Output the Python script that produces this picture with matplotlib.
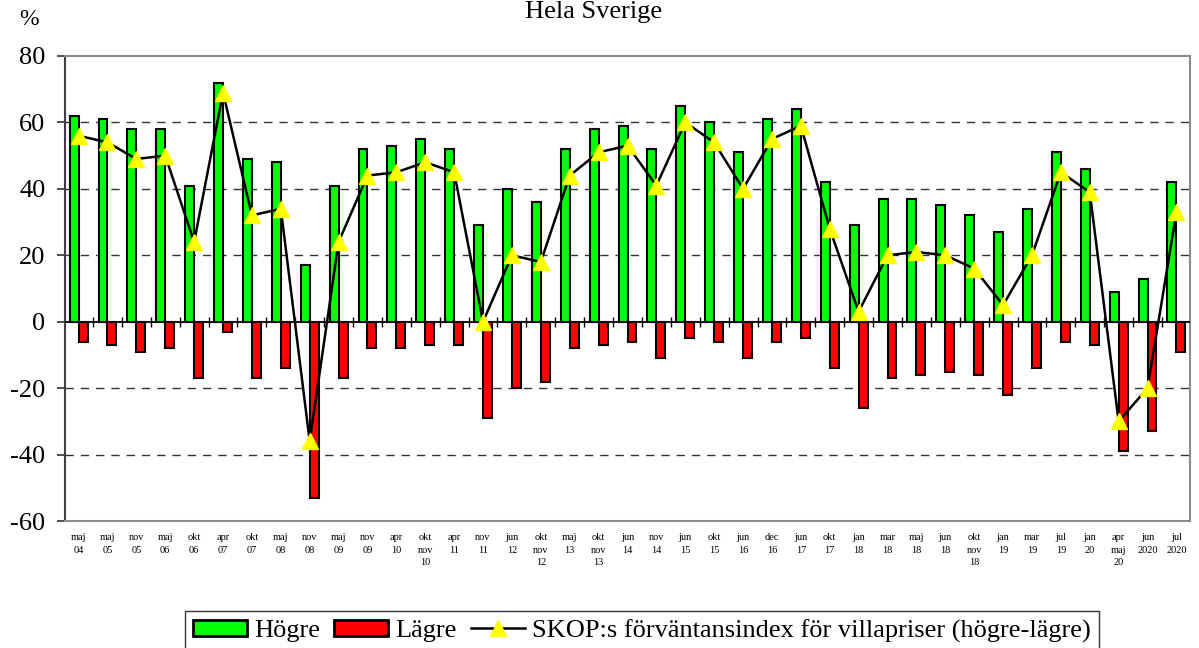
import numpy as np
import matplotlib
matplotlib.use('Agg')
import matplotlib.pyplot as plt
from matplotlib.patches import Patch
from matplotlib.lines import Line2D

# data
labels = ['maj\n04', 'maj\n05', 'nov\n05', 'maj\n06', 'okt\n06', 'apr\n07', 'okt\n07', 'maj\n08',
          'nov\n08', 'maj\n09', 'nov\n09', 'apr\n10', 'okt\nnov\n10', 'apr\n11', 'nov\n11', 'jun\n12',
          'okt\nnov\n12', 'maj\n13', 'okt\nnov\n13', 'jun\n14', 'nov\n14', 'jun\n15', 'okt\n15',
          'jun\n16', 'dec\n16', 'jun\n17', 'okt\n17', 'jan\n18', 'mar\n18', 'maj\n18', 'jun\n18',
          'okt\nnov\n18', 'jan\n19', 'mar\n19', 'jul\n19', 'jan\n20', 'apr\nmaj\n20', 'jun\n2020',
          'jul\n2020']
hogre = [62, 61, 58, 58, 41, 72, 49, 48, 17, 41, 52, 53, 55, 52, 29, 40, 36, 52, 58, 59,
         52, 65, 60, 51, 61, 64, 42, 29, 37, 37, 35, 32, 27, 34, 51, 46, 9, 13, 42]
lagre = [-6, -7, -9, -8, -17, -3, -17, -14, -53, -17, -8, -8, -7, -7, -29, -20, -18, -8, -7, -6,
         -11, -5, -6, -11, -6, -5, -14, -26, -17, -16, -15, -16, -22, -14, -6, -7, -39, -33, -9]
index = [56, 54, 49, 50, 24, 69, 32, 34, -36, 24, 44, 45, 48, 45, 0, 20, 18, 44, 51, 53,
         41, 60, 54, 40, 55, 59, 28, 3, 20, 21, 20, 16, 5, 20, 45, 39, -30, -20, 33]

plt.rcParams['font.family'] = ['Liberation Serif', 'DejaVu Serif']
plt.rcParams['axes.unicode_minus'] = False

x = np.arange(len(labels))
w = 0.31

fig = plt.figure(figsize=(11.99, 6.48), dpi=100)
ax = fig.add_axes([65/1199, 1-521/648, (1190-65)/1199, (521-56)/648])

ax.bar(x - w/2, hogre, w, color='#00ff00', edgecolor='black', linewidth=1.5, zorder=3)
ax.bar(x + w/2, lagre, w, color='#ff0000', edgecolor='black', linewidth=1.5, zorder=3)
ax.plot(x, index, color='black', lw=1.8, marker='^', ms=11, mfc='#ffff00', mec='#ffff00', zorder=5)

# nollinje med streck mellan kategorierna
ax.axhline(0, color='black', lw=1.3, zorder=4)
ax.plot(np.arange(len(labels) - 1) + 0.5, np.zeros(len(labels) - 1), ls='none', marker='|',
        ms=7, mew=1, color='black', zorder=4)

ax.set_xlim(-0.47, len(labels) - 0.53)
ax.set_ylim(-60, 80)
ax.set_yticks(range(-60, 81, 20))
for g in [-40, -20, 20, 40, 60]:
    ax.axhline(g, color='#333333', lw=1, ls=(0, (6, 5)), zorder=1)

ax.set_xticks(x)
ax.set_xticklabels(labels, fontsize=7.5, linespacing=1.45, va='top')
ax.tick_params(axis='x', length=0, pad=9)
ax.tick_params(axis='y', labelsize=19, length=6, width=1.3, pad=8, color='#404040')

for s in ['top', 'right', 'bottom']:
    ax.spines[s].set_color('#8c8c8c')
    ax.spines[s].set_linewidth(1.5)
ax.spines['left'].set_color('#404040')
ax.spines['left'].set_linewidth(1.5)

fig.text(594/1199, 1-18/648, 'Hela Sverige', ha='center', va='baseline', fontsize=19)
fig.text(29/1199, 1-25/648, '%', ha='center', va='baseline', fontsize=17)

handles = [Patch(facecolor='#00ff00', edgecolor='black', linewidth=2),
           Patch(facecolor='#ff0000', edgecolor='black', linewidth=2),
           Line2D([], [], color='black', lw=1.8, marker='^', ms=11, mfc='#ffff00', mec='#ffff00')]
leg = fig.legend(handles, ['Högre', 'Lägre', 'SKOP:s förväntansindex för villapriser (högre-lägre)'],
                 loc='center', bbox_to_anchor=(642/1199, 1-631/648), ncol=3, fontsize=19,
                 frameon=True, fancybox=False, edgecolor='black', handlelength=2.05,
                 handleheight=0.6, handletextpad=0.27, columnspacing=0.53, borderpad=0.3)
leg.get_frame().set_linewidth(1)

fig.savefig('out.png', dpi=100)
